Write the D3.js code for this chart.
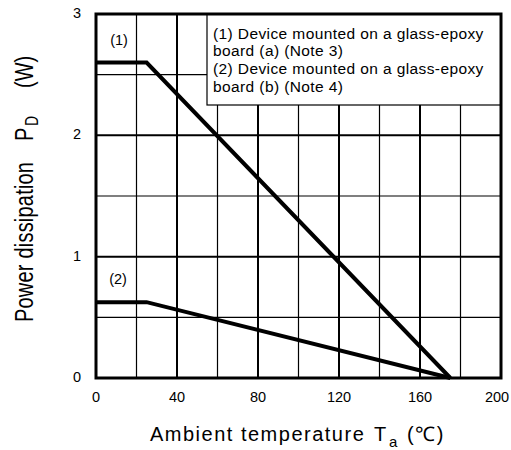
<!DOCTYPE html>
<html>
<head>
<meta charset="utf-8">
<script src="https://cdn.jsdelivr.net/npm/d3@7"></script>
<style>
body { margin: 0; background: #fff; }
text { font-family: "Liberation Sans", Arial, sans-serif; fill: #000; }
</style>
</head>
<body>
<script>
// derating curves, Ta (degC) vs PD (W)
var curve1 = [[0, 2.6], [25, 2.6], [175, 0]];
var curve2 = [[0, 0.625], [25, 0.625], [175, 0]];
var xTicks = [0, 40, 80, 120, 160, 200];
var yTicks = [0, 1, 2, 3];
var legendLines = ["(1) Device mounted on a glass-epoxy", "board (a) (Note 3)",
	"(2) Device mounted on a glass-epoxy", "board (b) (Note 4)"];

var w = 511, h = 450;
var pL = 96, pR = 501, pT = 14, pB = 378;

var svg = d3.select("body").append("svg").attr("width", w).attr("height", h);

var x = d3.scaleLinear().domain([0, 200]).range([pL, pR]);
var y = d3.scaleLinear().domain([0, 3]).range([pB, pT]);

//grid lines, thin every 20 / 0.5, thicker on the labelled ones
var g = svg.append("g");
d3.range(20, 200, 20).forEach(function(v){
	g.append("line").attr("x1", x(v)).attr("x2", x(v)).attr("y1", pT).attr("y2", pB)
		.attr("stroke", "#000").attr("stroke-width", v % 40 == 0 ? 2 : 1.2);
});
d3.range(0.5, 3, 0.5).forEach(function(v){
	g.append("line").attr("x1", pL).attr("x2", pR).attr("y1", y(v)).attr("y2", y(v))
		.attr("stroke", "#000").attr("stroke-width", v % 1 == 0 ? 2 : 1.2);
});

//legend box sits over the grid
svg.append("rect").attr("x", 207).attr("y", pT).attr("width", pR - 207).attr("height", 91)
	.attr("fill", "#fff").attr("stroke", "#000").attr("stroke-width", 1.2);
svg.selectAll(".leg").data(legendLines).enter().append("text")
	.attr("x", 213).attr("y", function(d, i){ return 38.5 + i * 17.8; })
	.attr("font-size", 15.5).attr("letter-spacing", 0.4).text(function(d){ return d; });

var line = d3.line().x(function(d){ return x(d[0]); }).y(function(d){ return y(d[1]); });
[curve1, curve2].forEach(function(c){
	svg.append("path").attr("d", line(c)).attr("fill", "none")
		.attr("stroke", "#000").attr("stroke-width", 4).attr("stroke-linejoin", "miter");
});

//plot frame
svg.append("rect").attr("x", pL).attr("y", pT).attr("width", pR - pL).attr("height", pB - pT)
	.attr("fill", "none").attr("stroke", "#000").attr("stroke-width", 3);

svg.append("text").attr("x", 119).attr("y", 45).attr("text-anchor", "middle").attr("font-size", 14.5).text("(1)");
svg.append("text").attr("x", 118).attr("y", 284).attr("text-anchor", "middle").attr("font-size", 14.5).text("(2)");

//tick labels
svg.selectAll(".xt").data(xTicks).enter().append("text")
	.attr("x", function(d){ return d == 200 ? x(d) - 4 : x(d); }).attr("y", 402)
	.attr("text-anchor", "middle").attr("font-size", 14.5).text(function(d){ return d; });
svg.selectAll(".yt").data(yTicks).enter().append("text")
	.attr("x", 81).attr("y", function(d){ return y(d) + 4; })
	.attr("text-anchor", "end").attr("font-size", 14.5).text(function(d){ return d; });

//axis titles, pieces placed one by one to keep the wide gaps
var xt = svg.append("text").attr("y", 441).attr("font-size", 20).attr("letter-spacing", 1.5);
xt.append("tspan").attr("x", 150).text("Ambient temperature");
xt.append("tspan").attr("x", 374).text("T");
xt.append("tspan").attr("x", 389).attr("y", 447).attr("font-size", 15).text("a");
xt.append("tspan").attr("x", 407).attr("y", 441).text("(\u2103)");

var yg = svg.append("g").attr("transform", "translate(33,322) rotate(-90) scale(1,1.3)")
	.attr("font-size", 20);
yg.append("text").attr("x", 0).attr("textLength", 160).attr("lengthAdjust", "spacing").text("Power dissipation");
yg.append("text").attr("x", 181).text("P");
yg.append("text").attr("x", 196).attr("y", 4).attr("font-size", 14).text("D");
yg.append("text").attr("x", 234).text("(W)");
</script>
</body>
</html>
